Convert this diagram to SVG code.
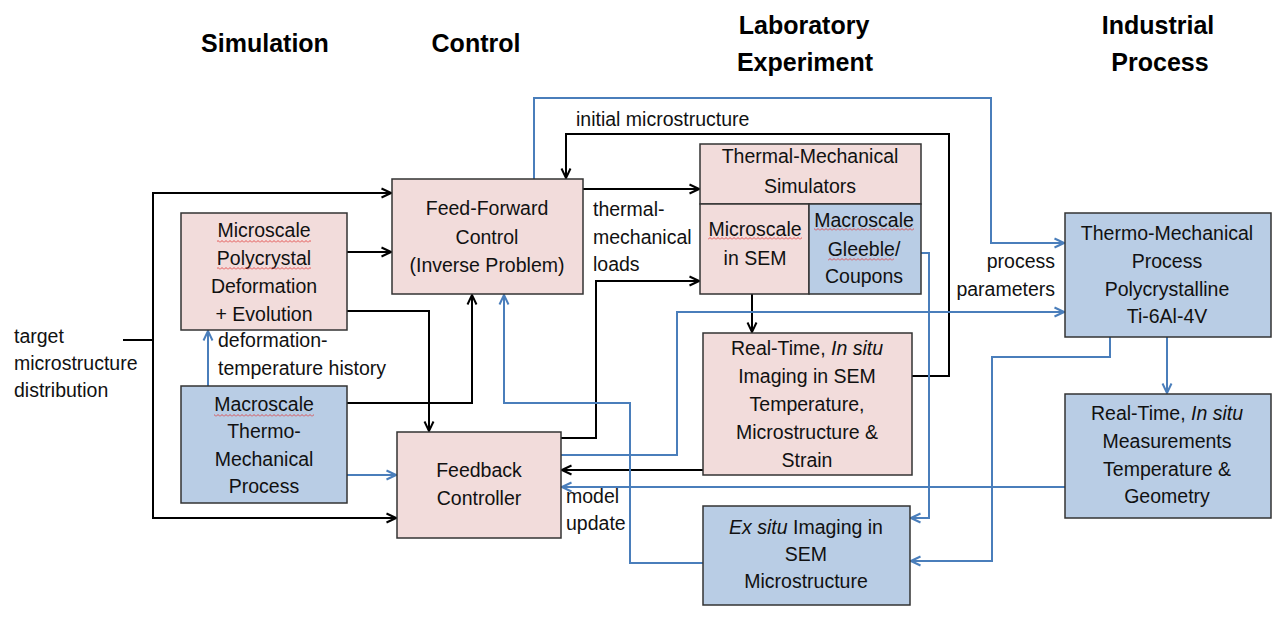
<svg xmlns="http://www.w3.org/2000/svg" width="1279" height="633" viewBox="0 0 1279 633">
<style>
text{font-family:"Liberation Sans",Arial,sans-serif;font-size:19.5px;fill:#111}
.t{font-size:25px;font-weight:bold;text-anchor:middle;fill:#000}
.c{text-anchor:middle}
.pk{fill:#F2DCDB;stroke:#333;stroke-width:1.5}
.bl{fill:#B9CDE5;stroke:#333;stroke-width:1.5}
.k{fill:none;stroke:#000;stroke-width:2}
.b{fill:none;stroke:#4A7EBB;stroke-width:2}
.ka{marker-end:url(#ak)}
.ba{marker-end:url(#ab)}
.sq{fill:url(#squig)}
</style>
<defs>
<marker id="ak" markerUnits="userSpaceOnUse" viewBox="0 0 12 12" refX="11" refY="6" markerWidth="12" markerHeight="12" orient="auto"><path d="M1.5,1.5 L11,6 L1.5,10.5" fill="none" stroke="#000" stroke-width="2"/></marker>
<marker id="ab" markerUnits="userSpaceOnUse" viewBox="0 0 12 12" refX="11" refY="6" markerWidth="12" markerHeight="12" orient="auto"><path d="M1.5,1.5 L11,6 L1.5,10.5" fill="none" stroke="#4A7EBB" stroke-width="2"/></marker>
<pattern id="squig" patternUnits="userSpaceOnUse" width="4" height="3"><path d="M0,2.5 L2,0.5 L4,2.5" fill="none" stroke="#E03030" stroke-width="0.8"/></pattern>
</defs>
<rect width="1279" height="633" fill="#fff"/>

<g id="titles">
<text class="t" x="265" y="52">Simulation</text>
<text class="t" x="476" y="52">Control</text>
<text class="t" x="804" y="34">Laboratory</text>
<text class="t" x="805" y="71">Experiment</text>
<text class="t" x="1158" y="34">Industrial</text>
<text class="t" x="1160" y="71">Process</text>
</g>

<g id="connectors">
<path class="k" d="M123,340 H153"/>
<path class="k ka" d="M153,340 V193 H391"/>
<path class="k ka" d="M153,340 V518 H396"/>
<path class="k ka" d="M347,252 H391"/>
<path class="k ka" d="M347,311 H429 V431"/>
<path class="k ka" d="M347,403 H472 V295"/>
<path class="k ka" d="M583,189 H699"/>
<path class="k ka" d="M561,438 H596 V281 H699"/>
<path class="k ka" d="M752,294 V332"/>
<path class="k ka" d="M912,376 H949 V134 H566 V178"/>
<path class="k ka" d="M703,470 H562"/>
<path class="b ba" d="M208,386 V331"/>
<path class="b ba" d="M347,475 H396"/>
<path class="b ba" d="M534,179 V98 H991 V243 H1064"/>
<path class="b ba" d="M561,455 H677 V312 H1064"/>
<path class="b ba" d="M1110,337 V357 H992 V561 H911"/>
<path class="b ba" d="M921,253 H929 V518 H911"/>
<path class="b ba" d="M1167,337 V393"/>
<path class="b ba" d="M1065,487 H562"/>
<path class="b ba" d="M703,563 H630 V403 H504 V295"/>
</g>

<g id="labels">
<text x="14" y="343">target</text>
<text x="14" y="370">microstructure</text>
<text x="14" y="397">distribution</text>
<text x="218" y="347">deformation-</text>
<text x="218" y="375">temperature history</text>
<text x="593" y="216">thermal-</text>
<text x="593" y="244">mechanical</text>
<text x="593" y="271">loads</text>
<text x="576" y="126">initial microstructure</text>
<text x="1055" y="268" text-anchor="end">process</text>
<text x="1055" y="296" text-anchor="end">parameters</text>
<text x="566" y="503">model</text>
<text x="566" y="530">update</text>
</g>

<g id="sim-micro">
<rect class="pk" x="181" y="213" width="166" height="117"/>
<text class="c" x="264" y="237">Microscale</text>
<text class="c" x="264" y="265">Polycrystal</text>
<text class="c" x="264" y="293">Deformation</text>
<text class="c" x="264" y="321">+ Evolution</text>
<rect class="sq" x="217" y="240" width="94" height="3"/>
<rect class="sq" x="217" y="267" width="94" height="3"/>
</g>

<g id="sim-macro">
<rect class="bl" x="181" y="386" width="166" height="117"/>
<text class="c" x="264" y="411">Macroscale</text>
<text class="c" x="264" y="438">Thermo-</text>
<text class="c" x="264" y="466">Mechanical</text>
<text class="c" x="264" y="493">Process</text>
<rect class="sq" x="214" y="414" width="100" height="3"/>
</g>

<g id="feed-forward">
<rect class="pk" x="392" y="179" width="191" height="115"/>
<text class="c" x="487" y="215">Feed-Forward</text>
<text class="c" x="487" y="244">Control</text>
<text class="c" x="487" y="272">(Inverse Problem)</text>
</g>

<g id="feedback">
<rect class="pk" x="397" y="432" width="164" height="106"/>
<text class="c" x="479" y="477">Feedback</text>
<text class="c" x="479" y="505">Controller</text>
</g>

<g id="simulators">
<rect class="pk" x="700" y="144" width="221" height="60"/>
<rect class="pk" x="700" y="204" width="109" height="90"/>
<rect class="bl" x="809" y="204" width="112" height="90"/>
<text class="c" x="810" y="163">Thermal-Mechanical</text>
<text class="c" x="810" y="193">Simulators</text>
<text class="c" x="755" y="236">Microscale</text>
<text class="c" x="755" y="265">in SEM</text>
<text class="c" x="864" y="227">Macroscale</text>
<text class="c" x="864" y="256">Gleeble/</text>
<text class="c" x="864" y="283">Coupons</text>
<rect class="sq" x="708" y="237" width="94" height="3"/>
<rect class="sq" x="814" y="228" width="100" height="3"/>
<rect class="sq" x="828" y="258" width="66" height="3"/>
</g>

<g id="rt-sem">
<rect class="pk" x="703" y="333" width="209" height="142"/>
<text class="c" x="807" y="355">Real-Time, <tspan font-style="italic">In situ</tspan></text>
<text class="c" x="807" y="383">Imaging in SEM</text>
<text class="c" x="807" y="411">Temperature,</text>
<text class="c" x="807" y="439">Microstructure &amp;</text>
<text class="c" x="807" y="467">Strain</text>
</g>

<g id="ex-situ">
<rect class="bl" x="703" y="506" width="207" height="99"/>
<text class="c" x="806" y="534"><tspan font-style="italic">Ex situ</tspan> Imaging in</text>
<text class="c" x="806" y="561">SEM</text>
<text class="c" x="806" y="588">Microstructure</text>
</g>

<g id="industrial-process">
<rect class="bl" x="1065" y="213" width="206" height="124"/>
<text class="c" x="1167" y="240">Thermo-Mechanical</text>
<text class="c" x="1167" y="268">Process</text>
<text class="c" x="1167" y="296">Polycrystalline</text>
<text class="c" x="1167" y="323">Ti-6Al-4V</text>
</g>

<g id="rt-measurements">
<rect class="bl" x="1065" y="394" width="206" height="124"/>
<text class="c" x="1167" y="420">Real-Time, <tspan font-style="italic">In situ</tspan></text>
<text class="c" x="1167" y="448">Measurements</text>
<text class="c" x="1167" y="476">Temperature &amp;</text>
<text class="c" x="1167" y="503">Geometry</text>
</g>
</svg>
